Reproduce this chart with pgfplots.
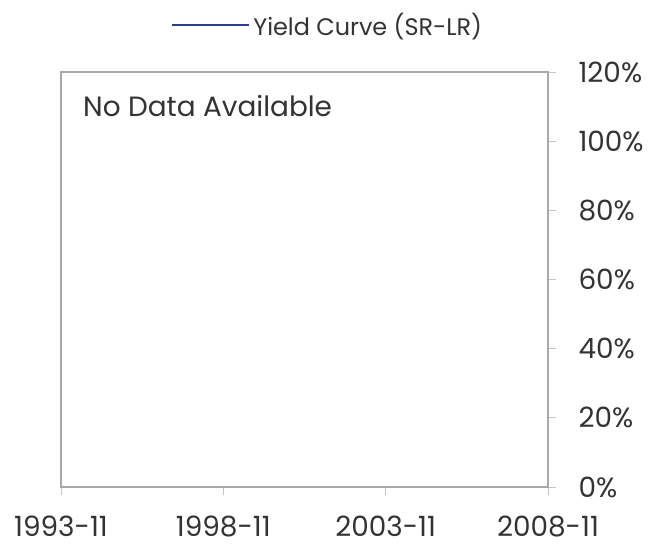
\documentclass[border=0pt]{standalone}
\usepackage{pgfplots}
\pgfplotsset{compat=1.18}
\usepackage{fontspec}
\setmainfont{Poppins}
\definecolor{txt}{HTML}{333333}
\definecolor{axgray}{HTML}{A8A8A8}
\definecolor{tickgray}{HTML}{C4C4C4}
\definecolor{navy}{HTML}{2A3F7E}
\begin{document}
\begin{tikzpicture}
\begin{axis}[
  scale only axis, width=487bp, height=415bp,
  xmin=0, xmax=15, ymin=0, ymax=120,
  xtick={0,5,10,15}, xticklabels={1993-11,1998-11,2003-11,2008-11},
  ytick={0,20,...,120}, yticklabel={\pgfmathprintnumber{\tick}\%},
  yticklabel pos=right, ytick pos=right, xtick pos=bottom,
  tick align=outside, major tick length=8bp,
  axis line style={axgray, line width=1.1bp},
  tick style={tickgray, line width=0.9bp},
  tick label style={font=\fontsize{28}{32}\selectfont, text=txt},
  /pgf/number format/assume math mode=true,
  xticklabel style={yshift=-17bp},
  yticklabel style={xshift=19bp},
  legend style={at={(rel axis cs:0.548,1)}, yshift=47bp, anchor=center,
    draw=none, fill=none, font=\fontsize{24}{28}\selectfont, text=txt,
    inner sep=0pt, nodes={inner xsep=3bp}},
  legend image code/.code={\draw[#1, navy, line width=2.6bp] (0bp,0bp) -- (77bp,0bp);},
]
\addlegendimage{navy}
\addlegendentry{Yield Curve (SR-LR)}
\node[anchor=base west, inner sep=0pt, text=txt, font=\fontsize{28}{32}\selectfont]
  at ([shift={(22bp,-45bp)}]rel axis cs:0,1) {No Data Available};
\end{axis}
\pgfresetboundingbox
\path[use as bounding box] ([shift={(-61bp,-59bp)}]current axis.south west) rectangle ++(653bp,546bp);
\end{tikzpicture}
\end{document}
